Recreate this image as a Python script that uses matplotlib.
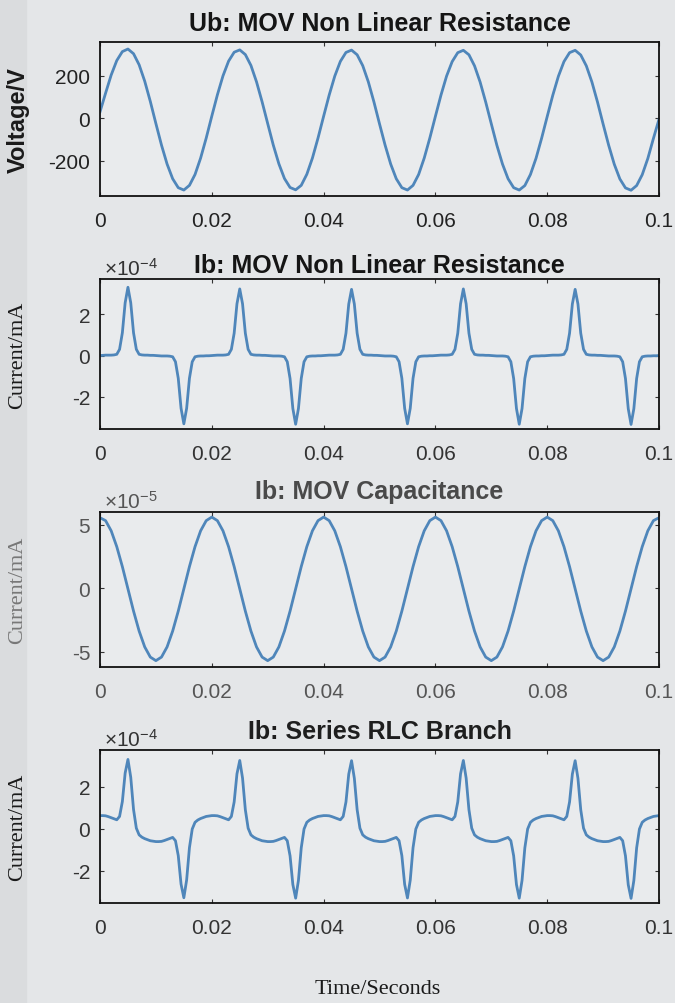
import numpy as np
import matplotlib
matplotlib.use("Agg")
import matplotlib.pyplot as plt

plt.rcParams['font.family'] = ['Liberation Sans', 'DejaVu Sans']
plt.rcParams['mathtext.fontset'] = 'custom'
plt.rcParams['mathtext.rm'] = 'Liberation Sans'
plt.rcParams['mathtext.it'] = 'Liberation Sans:italic'
plt.rcParams['mathtext.bf'] = 'Liberation Sans:bold'
plt.rcParams['axes.unicode_minus'] = False

# ---------------- data ----------------
# time grids (seconds)
t_1ms = np.linspace(0.0, 0.1, 101)
t_05ms = np.linspace(0.0, 0.1, 201)

# Ub: MOV non linear resistance, volts, every 1 ms
ub_volts = [
    30, 118, 203, 271, 313, 325, 303, 251, 174, 79, -25, -126, -215, -284, -326, -337, -315, -264, -187, -93,
    10, 110, 199, 268, 310, 321, 299, 248, 171, 77, -25, -126, -214, -283, -325, -336, -315, -263, -187, -93,
    9, 109, 198, 267, 309, 320, 298, 247, 171, 77, -26, -126, -215, -284, -326, -337, -315, -264, -187, -93,
    9, 109, 198, 266, 308, 319, 298, 246, 170, 76, -26, -127, -215, -284, -326, -337, -316, -264, -188, -94,
    8, 108, 197, 266, 308, 319, 297, 246, 170, 76, -27, -127, -216, -285, -327, -338, -316, -265, -189, -95,
    -5,
]

# Ib: MOV non linear resistance, in units of 1e-4, every 0.5 ms
ib_mov_r_e4 = [
    0.00, 0.01, 0.02, 0.02, 0.02, 0.03, 0.06, 0.30, 1.10, 2.55, 3.30, 2.55, 1.10, 0.30, 0.06, 0.03, 0.02, 0.02, 0.01, 0.01,
    0.00, -0.01, -0.02, -0.02, -0.02, -0.03, -0.06, -0.30, -1.10, -2.55, -3.30, -2.55, -1.10, -0.30, -0.06, -0.03, -0.02, -0.02, -0.01, -0.01,
    0.00, 0.01, 0.02, 0.02, 0.02, 0.03, 0.06, 0.30, 1.08, 2.50, 3.22, 2.50, 1.08, 0.30, 0.06, 0.03, 0.02, 0.02, 0.01, 0.01,
    0.00, -0.01, -0.02, -0.02, -0.02, -0.03, -0.06, -0.30, -1.11, -2.56, -3.32, -2.56, -1.11, -0.30, -0.06, -0.03, -0.02, -0.02, -0.01, -0.01,
    0.00, 0.01, 0.02, 0.02, 0.02, 0.03, 0.06, 0.30, 1.08, 2.49, 3.20, 2.49, 1.08, 0.30, 0.06, 0.03, 0.02, 0.02, 0.01, 0.01,
    0.00, -0.01, -0.02, -0.02, -0.02, -0.03, -0.06, -0.30, -1.10, -2.55, -3.30, -2.55, -1.10, -0.30, -0.06, -0.03, -0.02, -0.02, -0.01, -0.01,
    0.00, 0.01, 0.02, 0.02, 0.02, 0.03, 0.06, 0.30, 1.08, 2.50, 3.22, 2.50, 1.08, 0.30, 0.06, 0.03, 0.02, 0.02, 0.01, 0.01,
    0.00, -0.01, -0.02, -0.02, -0.02, -0.03, -0.06, -0.30, -1.11, -2.56, -3.32, -2.56, -1.11, -0.30, -0.06, -0.03, -0.02, -0.02, -0.01, -0.01,
    0.00, 0.01, 0.02, 0.02, 0.02, 0.03, 0.06, 0.30, 1.08, 2.49, 3.20, 2.49, 1.08, 0.30, 0.06, 0.03, 0.02, 0.02, 0.01, 0.01,
    0.00, -0.01, -0.02, -0.02, -0.02, -0.03, -0.06, -0.30, -1.11, -2.57, -3.33, -2.57, -1.11, -0.30, -0.06, -0.03, -0.02, -0.02, -0.01, -0.01,
    0.00,
]

# Ib: MOV capacitance, in units of 1e-5, every 1 ms
ib_mov_c_e5 = [
    5.55, 5.32, 4.52, 3.27, 1.70, -0.05, -1.80, -3.37, -4.62, -5.42, -5.70, -5.42, -4.62, -3.37, -1.80, -0.05, 1.70, 3.27, 4.52, 5.32,
    5.60, 5.32, 4.52, 3.27, 1.70, -0.05, -1.80, -3.37, -4.62, -5.42, -5.70, -5.42, -4.62, -3.37, -1.80, -0.05, 1.70, 3.27, 4.52, 5.32,
    5.60, 5.32, 4.52, 3.27, 1.70, -0.05, -1.80, -3.37, -4.62, -5.42, -5.70, -5.42, -4.62, -3.37, -1.80, -0.05, 1.70, 3.27, 4.52, 5.32,
    5.60, 5.32, 4.52, 3.27, 1.70, -0.05, -1.80, -3.37, -4.62, -5.42, -5.70, -5.42, -4.62, -3.37, -1.80, -0.05, 1.70, 3.27, 4.52, 5.32,
    5.60, 5.32, 4.52, 3.27, 1.70, -0.05, -1.80, -3.37, -4.62, -5.42, -5.70, -5.42, -4.62, -3.37, -1.80, -0.05, 1.70, 3.27, 4.52, 5.32,
    5.55,
]

# Ib: series RLC branch, in units of 1e-4, every 0.5 ms
ib_rlc_e4 = [
    0.62, 0.62, 0.61, 0.57, 0.52, 0.47, 0.42, 0.58, 1.29, 2.65, 3.30, 2.45, 0.91, 0.02, -0.30, -0.41, -0.48, -0.53, -0.58, -0.60,
    -0.62, -0.62, -0.61, -0.57, -0.52, -0.47, -0.42, -0.58, -1.29, -2.65, -3.30, -2.45, -0.91, -0.02, 0.30, 0.41, 0.48, 0.53, 0.58, 0.60,
    0.62, 0.62, 0.61, 0.57, 0.52, 0.47, 0.42, 0.58, 1.27, 2.61, 3.25, 2.41, 0.90, 0.02, -0.30, -0.41, -0.48, -0.53, -0.58, -0.60,
    -0.62, -0.62, -0.61, -0.57, -0.52, -0.47, -0.42, -0.58, -1.30, -2.67, -3.32, -2.47, -0.92, -0.02, 0.30, 0.41, 0.48, 0.53, 0.58, 0.60,
    0.62, 0.62, 0.61, 0.57, 0.52, 0.47, 0.42, 0.58, 1.27, 2.60, 3.24, 2.40, 0.90, 0.02, -0.30, -0.41, -0.48, -0.53, -0.58, -0.60,
    -0.62, -0.62, -0.61, -0.57, -0.52, -0.47, -0.42, -0.58, -1.29, -2.66, -3.31, -2.46, -0.91, -0.02, 0.30, 0.41, 0.48, 0.53, 0.58, 0.60,
    0.62, 0.62, 0.61, 0.57, 0.52, 0.47, 0.42, 0.58, 1.27, 2.61, 3.25, 2.41, 0.90, 0.02, -0.30, -0.41, -0.48, -0.53, -0.58, -0.60,
    -0.62, -0.62, -0.61, -0.57, -0.52, -0.47, -0.42, -0.58, -1.30, -2.67, -3.32, -2.47, -0.92, -0.02, 0.30, 0.41, 0.48, 0.53, 0.58, 0.60,
    0.62, 0.62, 0.61, 0.57, 0.52, 0.47, 0.42, 0.58, 1.27, 2.60, 3.24, 2.40, 0.90, 0.02, -0.30, -0.41, -0.48, -0.53, -0.58, -0.60,
    -0.62, -0.62, -0.61, -0.57, -0.52, -0.47, -0.42, -0.58, -1.30, -2.68, -3.33, -2.48, -0.92, -0.02, 0.30, 0.41, 0.48, 0.53, 0.58, 0.60,
    0.62,
]

titles = ["Ub: MOV Non Linear Resistance", "Ib: MOV Non Linear Resistance",
          "Ib: MOV Capacitance", "Ib: Series RLC Branch"]
ylabels = ["Voltage/V", "Current/mA", "Current/mA", "Current/mA"]
exponents = [None, "-4", "-5", "-4"]
x_ticks = [0, 0.02, 0.04, 0.06, 0.08, 0.1]
x_ticklabels = ["0", "0.02", "0.04", "0.06", "0.08", "0.1"]
y_ticks = [[-200, 0, 200], [-2, 0, 2], [-5, 0, 5], [-2, 0, 2]]
y_lims = [(-365, 358), (-3.55, 3.7), (-6.2, 6.0), (-3.55, 3.75)]
xlabel = "Time/Seconds"

# ---------------- figure ----------------
W, H = 675, 1004
fig = plt.figure(figsize=(W / 100, H / 100), dpi=100)
fig.patch.set_facecolor('#e4e6e8')
fig.add_artist(plt.Rectangle((0, 0), 26 / W, 1, transform=fig.transFigure,
                             color='#dadcde', zorder=-10))

boxes = [(43, 197), (280, 430), (513, 668), (751, 904)]  # top, bottom px
title_centers = [24, 266, 492, 732]
left_px, right_px = 100, 659
line_color = '#4f86ba'

series = [(t_1ms, ub_volts), (t_05ms, ib_mov_r_e4), (t_1ms, ib_mov_c_e5), (t_05ms, ib_rlc_e4)]
text_cols = ['#151515', '#151515', '#4a4a4a', '#1e1e1e']
tick_cols = ['#222222', '#333333', '#555555', '#333333']

for k in range(4):
    top, bot = boxes[k]
    ax = fig.add_axes([left_px / W, 1 - bot / H, (right_px - left_px) / W, (bot - top) / H])
    ax.set_facecolor('#e9ebed')
    tx, yv = series[k]
    ax.plot(tx, yv, color=line_color, lw=2.0, solid_joinstyle='round')
    ax.set_xlim(0, 0.1)
    ax.set_ylim(*y_lims[k])
    ax.set_xticks(x_ticks)
    ax.set_xticklabels(x_ticklabels)
    ax.set_yticks(y_ticks[k])
    ax.tick_params(direction='in', length=3, width=0.8, top=True, right=True,
                   labelsize=15, colors='#333333', labelcolor=tick_cols[k])
    ax.tick_params(axis='x', pad=11)
    ax.tick_params(axis='y', pad=7)
    for sp in ax.spines.values():
        sp.set_linewidth(1.3)
        sp.set_color('#111111')
    cx = (left_px + right_px) / 2 / W
    fig.text(cx, 1 - title_centers[k] / H, titles[k], ha='center', va='center',
             fontsize=18, fontweight='bold', color=text_cols[k])
    ymid = 1 - ((top + bot) / 2) / H
    if k == 0:
        fig.text(18 / W, ymid, ylabels[k], rotation=90, ha='center', va='center',
                 fontsize=17, fontweight='bold', color='#1a1a1a')
    else:
        fig.text(18 / W, ymid, ylabels[k], rotation=90, ha='center', va='center',
                 fontsize=16, family=['Liberation Serif', 'DejaVu Serif'],
                 color='#777777' if k == 2 else '#1a1a1a')
    if exponents[k]:
        ax.text(0.008, 1.0, r'$\times10^{' + exponents[k] + '}$',
                transform=ax.transAxes, ha='left', va='bottom', fontsize=15,
                color='#555555' if k == 2 else '#333333')

fig.text(378 / W, 1 - 990 / H, xlabel, ha='center', va='center', fontsize=16,
         family=['Liberation Serif', 'DejaVu Serif'], color='#1a1a1a')

fig.savefig('out.png', dpi=100, facecolor=fig.get_facecolor())
